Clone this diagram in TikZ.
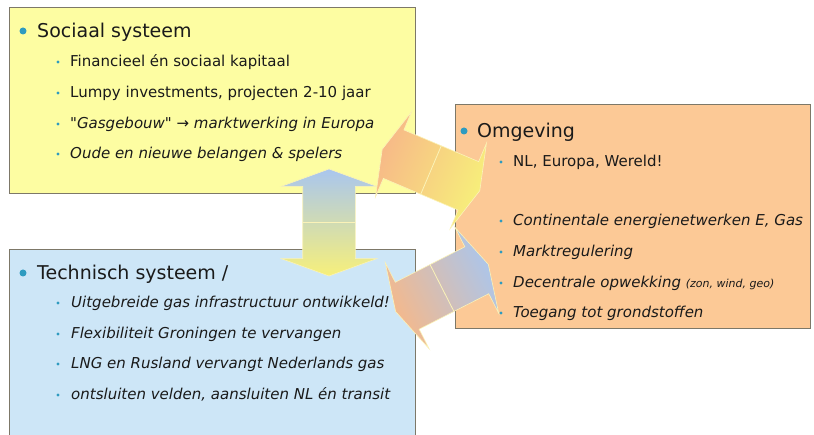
\documentclass[tikz,border=0pt]{standalone}
\usepackage{fontspec}
\setmainfont{DejaVu Sans}
\usetikzlibrary{shapes.arrows,calc}

\definecolor{socfill}{HTML}{FDFDA2}
\definecolor{techfill}{HTML}{CDE6F7}
\definecolor{omgfill}{HTML}{FCC996}
\definecolor{boxline}{HTML}{7D7868}
\definecolor{dotcol}{HTML}{2E9BC0}
\definecolor{ink}{HTML}{1A1A1A}
\definecolor{pijlgeel}{HTML}{F7F07A}
\definecolor{pijlblauw}{HTML}{A9C6EE}
\definecolor{pijloranje}{HTML}{F7B888}
\definecolor{naad}{HTML}{FBF3B8}

\begin{document}
\begin{tikzpicture}[x=1pt,y=-1pt]
        \tikzstyle{box}=[draw=boxline, line width=1.4pt, anchor=north west, inner sep=0pt]
        \tikzstyle{bigarrow}=[double arrow, draw=naad, line width=0.6pt, inner xsep=0pt, inner ysep=26pt, double arrow tip angle=150]
        \tikzstyle{seam}=[naad, line width=0.8pt]
        \tikzstyle{titel}=[anchor=base west, text=ink, inner sep=0pt, font=\fontsize{19}{22}\selectfont]
        \tikzstyle{punt}=[anchor=base west, text=ink, inner sep=0pt, font=\fontsize{15}{18}\selectfont]
        \tikzstyle{stip}=[circle, fill=dotcol, inner sep=0pt, minimum size=3.4pt]
        \tikzstyle{grotestip}=[circle, fill=dotcol, inner sep=0pt, minimum size=7pt]

        \useasboundingbox (0,0) rectangle (814,435);

        % de drie vlakken
        \node[box, fill=socfill, minimum width=406pt, minimum height=186pt] (soc) at (9,7) {};
        \node[box, fill=techfill, minimum width=406pt, minimum height=200pt] (tech) at (9,249) {};
        \node[box, fill=omgfill, minimum width=355pt, minimum height=224pt] (omg) at (455,104) {};

        % pijlen tussen de vlakken
        \node[bigarrow, rotate=90, minimum height=107pt,
              double arrow head extend=21.5pt, double arrow tip angle=140,
              top color=pijlblauw, bottom color=pijlgeel] (vpijl) at (329,222.5) {};
        \node[bigarrow, rotate=-23, minimum height=106pt,
              double arrow head extend=20pt,
              left color=pijloranje, right color=pijlgeel, shading angle=67] (bpijl) at (431,170) {};
        \node[bigarrow, rotate=27, minimum height=104pt,
              double arrow head extend=22pt,
              left color=pijloranje, right color=pijlblauw, shading angle=117] (opijl) at (442,288) {};
        \draw[seam] ($(vpijl.center)!26pt!90:(vpijl.east)$) -- ($(vpijl.center)!26pt!-90:(vpijl.east)$);
        \draw[seam] ($(bpijl.center)!26pt!90:(bpijl.east)$) -- ($(bpijl.center)!26pt!-90:(bpijl.east)$);
        \draw[seam] ($(opijl.center)!26pt!90:(opijl.east)$) -- ($(opijl.center)!26pt!-90:(opijl.east)$);

        % sociaal systeem
        \node[grotestip] (sb) at (23,31) {};
        \node[titel] (st) at (37,38) {Sociaal systeem};
        \foreach \y [count=\i] in {62,93,124,154}
            \node[stip] (sb\i) at (58,\y) {};
        \node[punt] (s1) at (70,66.5) {Financieel én sociaal kapitaal};
        \node[punt] (s2) at (70,97.5) {Lumpy investments, projecten 2-10 jaar};
        \node[punt] (s3) at (70,128.5) {\itshape \textquotedbl Gasgebouw\textquotedbl\ → marktwerking in Europa};
        \node[punt] (s4) at (70,158.5) {\itshape Oude en nieuwe belangen \& spelers};

        % technisch systeem
        \node[grotestip] (tb) at (23,273) {};
        \node[titel] (tt) at (37,280) {Technisch systeem /};
        \foreach \y [count=\i] in {303,334,364,395}
            \node[stip] (tb\i) at (58,\y) {};
        \node[punt] (t1) at (71,307.5) {\itshape Uitgebreide gas infrastructuur ontwikkeld!};
        \node[punt] (t2) at (71,338.5) {\itshape Flexibiliteit Groningen te vervangen};
        \node[punt] (t3) at (71,368.5) {\itshape LNG en Rusland vervangt Nederlands gas};
        \node[punt] (t4) at (71,399.5) {\itshape ontsluiten velden, aansluiten NL én transit};

        % omgeving
        \node[grotestip] (ob) at (464,131) {};
        \node[titel] (ot) at (477,138) {Omgeving};
        \foreach \y [count=\i] in {162,221,252,283,313}
            \node[stip] (ob\i) at (501,\y) {};
        \node[punt] (o1) at (513,166.5) {NL, Europa, Wereld!};
        \node[punt] (o2) at (513,225.5) {\itshape Continentale energienetwerken E, Gas};
        \node[punt] (o3) at (513,256.5) {\itshape Marktregulering};
        \node[punt] (o4) at (513,287.5) {\itshape Decentrale opwekking {\fontsize{11}{13}\selectfont (zon, wind, geo)}};
        \node[punt] (o5) at (513,317.5) {\itshape Toegang tot grondstoffen};
\end{tikzpicture}
\end{document}
